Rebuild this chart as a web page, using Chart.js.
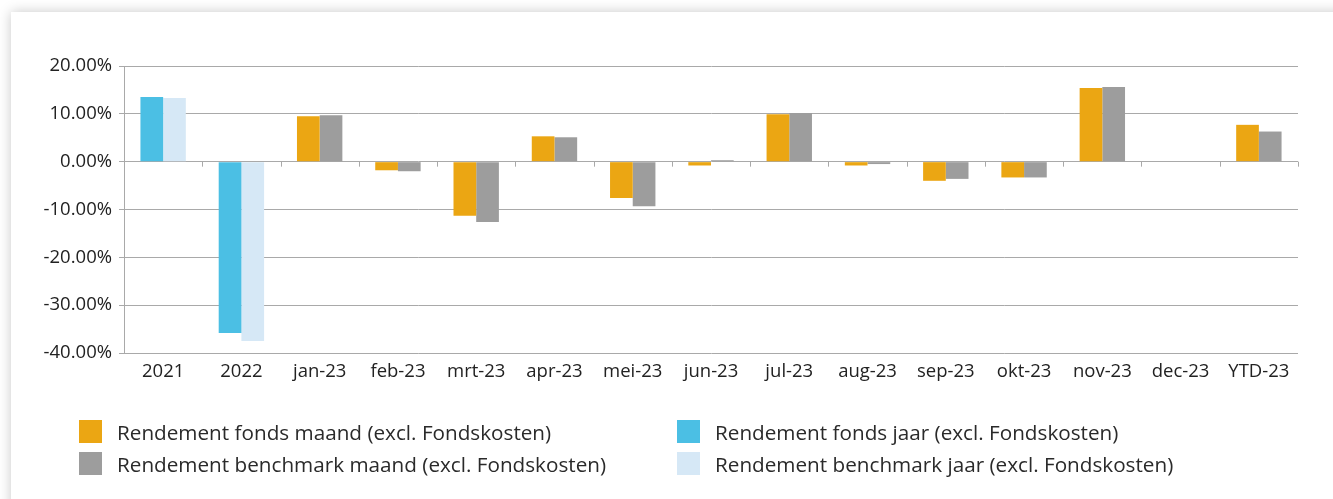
<!DOCTYPE html>
<html>
<head>
<meta charset="utf-8">
<script src="https://cdn.jsdelivr.net/npm/chart.js@4"></script>
<style>
  html, body { margin: 0; padding: 0; background: #ffffff; width: 1333px; height: 499px; overflow: hidden; }
  #card { position: absolute; left: 11px; top: 12px; width: 1340px; height: 500px; background: #fff;
          box-shadow: 0 0 12px rgba(0,0,0,0.22); }
  #wrap { position: absolute; left: 0; top: 0; width: 1333px; height: 499px; }
  #legend { position: absolute; left: 79px; top: 420px; font-family: "Open Sans", "Noto Sans", sans-serif;
            font-size: 20.7px; color: #2a2a2a; display: grid; grid-template-columns: 598px auto; row-gap: 9px; }
  .item { display: flex; align-items: center; height: 23px; white-space: nowrap; }
  .box { width: 23px; height: 23px; margin-right: 15px; flex: none; }
</style>
</head>
<body>
<div id="card"></div>
<div id="wrap"><canvas id="c" width="1333" height="499"></canvas></div>
<div id="legend"></div>
<script>
const categories = ['2021','2022','jan-23','feb-23','mrt-23','apr-23','mei-23','jun-23','jul-23','aug-23','sep-23','okt-23','nov-23','dec-23','YTD-23'];
const fondsMaand     = [null, null, 9.5, -1.8, -11.3, 5.3, -7.6, -0.8, 9.9, -0.8, -4.0, -3.3, 15.4, null, 7.7];
const benchmarkMaand = [null, null, 9.7, -2.0, -12.6, 5.1, -9.3, 0.3, 10.2, -0.5, -3.6, -3.3, 15.6, null, 6.3];
const fondsJaar      = [13.5, -35.8, null, null, null, null, null, null, null, null, null, null, null, null, null];
const benchmarkJaar  = [13.3, -37.5, null, null, null, null, null, null, null, null, null, null, null, null, null];
const yTicks = [20, 10, 0, -10, -20, -30, -40];
const labels = ['Rendement fonds maand (excl. Fondskosten)', 'Rendement benchmark maand (excl. Fondskosten)',
                'Rendement fonds jaar (excl. Fondskosten)', 'Rendement benchmark jaar (excl. Fondskosten)'];
const colors = ['#EBA613', '#9D9D9D', '#4BBFE4', '#D6E8F6'];

const FONT = '"Open Sans", "Noto Sans", sans-serif';
const gridColor = '#a9a9a9';

const zeroTicks = {
  id: 'zeroTicks',
  afterDatasetsDraw(chart) {
    const x = chart.scales.x, y = chart.scales.y, ctx = chart.ctx;
    const y0 = y.getPixelForValue(0);
    const half = (x.getPixelForValue(1) - x.getPixelForValue(0)) / 2;
    ctx.save();
    ctx.strokeStyle = gridColor; ctx.lineWidth = 1;
    ctx.beginPath();
    for (let i = 0; i < categories.length; i++) {
      const px = Math.round(x.getPixelForValue(i) + half) + 0.5;
      ctx.moveTo(px, y0); ctx.lineTo(px, y0 + 5);
    }
    ctx.stroke();
    ctx.restore();
  }
};

const datasets = [
  { label: labels[0], data: fondsMaand, backgroundColor: colors[0], stack: 'f' },
  { label: labels[1], data: benchmarkMaand, backgroundColor: colors[1], stack: 'b' },
  { label: labels[2], data: fondsJaar, backgroundColor: colors[2], stack: 'f' },
  { label: labels[3], data: benchmarkJaar, backgroundColor: colors[3], stack: 'b' }
];

new Chart(document.getElementById('c'), {
  type: 'bar',
  data: { labels: categories, datasets },
  options: {
    responsive: false, animation: false,
    layout: { padding: { left: 0, top: 66, right: 35, bottom: 106 } },
    datasets: { bar: { categoryPercentage: 0.58, barPercentage: 1 } },
    plugins: { legend: { display: false }, tooltip: { enabled: false } },
    scales: {
      x: {
        grid: { display: false, drawTicks: false },
        border: { display: false },
        ticks: { color: '#222', font: { family: FONT, size: 18.5 }, padding: 8, maxRotation: 0, autoSkip: false },
        afterFit(s) { s.height = 40; }
      },
      y: {
        stacked: true,
        min: -40, max: 20,
        afterBuildTicks(s) { s.ticks = yTicks.map(v => ({ value: v })); },
        grid: { color: gridColor, lineWidth: 1, tickLength: 5, tickColor: gridColor },
        border: { display: true, color: gridColor, width: 1 },
        ticks: { color: '#222', font: { family: FONT, size: 18.5 }, padding: 7,
                 callback: v => v.toFixed(2) + '%' },
        afterFit(s) { s.width = 124; }
      }
    }
  },
  plugins: [zeroTicks]
});

const order = [0, 2, 1, 3];
const lg = document.getElementById('legend');
order.forEach(i => {
  const d = document.createElement('div'); d.className = 'item';
  const b = document.createElement('span'); b.className = 'box'; b.style.background = colors[i];
  const t = document.createElement('span'); t.textContent = labels[i];
  d.appendChild(b); d.appendChild(t); lg.appendChild(d);
});
</script>
</body>
</html>
